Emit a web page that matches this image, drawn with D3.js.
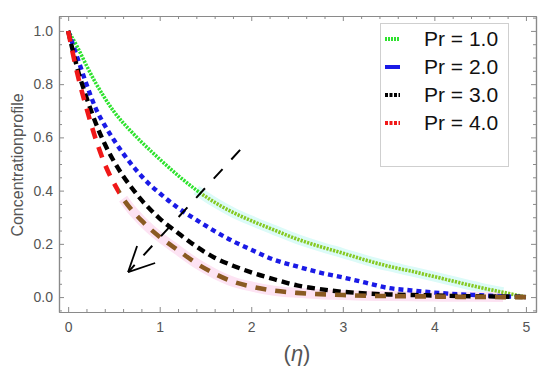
<!DOCTYPE html>
<html>
<head>
<meta charset="utf-8">
<script src="https://cdn.jsdelivr.net/npm/d3@7"></script>
<style>
  body { margin: 0; background: #fff; }
  svg { display: block; font-family: "Liberation Sans", Arial, sans-serif; }
</style>
</head>
<body>
<svg id="chart" width="550" height="376"></svg>
<script>
// values
var eta = [0, 0.1, 0.2, 0.3, 0.4, 0.5, 0.6, 0.7, 0.8, 0.9, 1.0, 1.2, 1.4, 1.6, 1.8,
           2.0, 2.25, 2.5, 2.75, 3.0, 3.25, 3.5, 3.75, 4.0, 4.25, 4.5, 4.75, 5.0];
var pr1 = [1, 0.94, 0.87, 0.805, 0.748, 0.697, 0.655, 0.618, 0.583, 0.55, 0.518, 0.457, 0.402, 0.356, 0.318,
           0.287, 0.252, 0.218, 0.19, 0.165, 0.139, 0.116, 0.097, 0.077, 0.056, 0.036, 0.018, 0];
var pr2 = [1, 0.90, 0.80, 0.71, 0.645, 0.59, 0.54, 0.495, 0.455, 0.42, 0.39, 0.335, 0.29, 0.248, 0.21,
           0.178, 0.14, 0.115, 0.092, 0.074, 0.054, 0.034, 0.025, 0.017, 0.011, 0.007, 0.003, 0];
var pr3 = [1, 0.86, 0.75, 0.655, 0.575, 0.51, 0.455, 0.408, 0.365, 0.328, 0.295, 0.241, 0.19, 0.148, 0.118,
           0.093, 0.067, 0.044, 0.03, 0.02, 0.014, 0.01, 0.008, 0.006, 0.004, 0.003, 0.002, 0];
var pr4 = [1, 0.84, 0.71, 0.595, 0.50, 0.428, 0.37, 0.325, 0.288, 0.255, 0.226, 0.176, 0.127, 0.088, 0.058,
           0.04, 0.024, 0.016, 0.011, 0.008, 0.005, 0.004, 0.003, 0.002, 0.001, 0.001, 0, 0];
var legendLabels = ["Pr = 1.0", "Pr = 2.0", "Pr = 3.0", "Pr = 4.0"];
var xTicks = [0, 1, 2, 3, 4, 5];
var yTicks = [0, 0.2, 0.4, 0.6, 0.8, 1.0];

var svg = d3.select('#chart');
var x = d3.scaleLinear().domain([-0.1, 5.11]).range([59, 536]);
var y = d3.scaleLinear().domain([-0.056, 1.056]).range([312, 16]);

var series = [
  { name: legendLabels[0], vals: pr1, color: '#2ee22e', color2: '#86c923', split: 1.45, dash: '2.2,1.2', w: 3.6, halo: '#dcfbf8', haloFrom: 1.4, legDash: '2,1' },
  { name: legendLabels[1], vals: pr2, color: '#1a1ae6', dash: '5,4', w: 4.4, legDash: null },
  { name: legendLabels[2], vals: pr3, color: '#000000', dash: '8,5', w: 4.4, legDash: '3,1.5' },
  { name: legendLabels[3], vals: pr4, color: '#f01818', color2: '#8a5a22', split: 0.56, dash: '11,9', w: 4.6, halo: '#fde3f3', haloFrom: 0.56, legDash: '3,1.5' }
];

var defs = svg.append('defs');
series.forEach(function(s, i) {
  if (!s.color2) return;
  var g = defs.append('linearGradient')
    .attr('id', 'grad' + i)
    .attr('gradientUnits', 'userSpaceOnUse')
    .attr('x1', x(0)).attr('x2', x(5)).attr('y1', 0).attr('y2', 0);
  var off = s.split / 5;
  g.append('stop').attr('offset', off).attr('stop-color', s.color);
  g.append('stop').attr('offset', off).attr('stop-color', s.color2);
});

var line = d3.line()
  .x(function(d) { return x(d[0]); })
  .y(function(d) { return y(d[1]); })
  .curve(d3.curveMonotoneX);

// faint halos under parts of the curves
series.forEach(function(s) {
  if (!s.halo) return;
  var pts = eta.map(function(e, k) { return [e, s.vals[k]]; })
    .filter(function(p) { return p[0] >= s.haloFrom - 0.05 && p[0] <= 4.8; });
  svg.append('path')
    .attr('d', line(pts))
    .attr('fill', 'none')
    .attr('stroke', s.halo)
    .attr('stroke-width', 10);
});

// curves
series.forEach(function(s, i) {
  var pts = eta.map(function(e, k) { return [e, s.vals[k]]; });
  svg.append('path')
    .attr('d', line(pts))
    .attr('fill', 'none')
    .attr('stroke', s.color2 ? 'url(#grad' + i + ')' : s.color)
    .attr('stroke-width', s.w)
    .attr('stroke-dasharray', s.dash);
});

// frame with inward ticks
var frame = svg.append('g').attr('class', 'frame');
var minorX = d3.range(0, 26).map(function(k) { return k * 0.2; }).filter(function(v) { return Math.abs(v - Math.round(v)) > 1e-6; });
var minorY = d3.range(-1, 22).map(function(k) { return k * 0.05; }).filter(function(v) { return Math.abs(v * 5 - Math.round(v * 5)) > 1e-6 && v > -0.056 && v < 1.056; });

function styleAxis(g) {
  g.selectAll('path.domain').attr('stroke', '#8a8a8a').attr('stroke-width', 1.2);
  g.selectAll('line').attr('stroke', '#8a8a8a');
  g.selectAll('text').attr('fill', '#555').style('font-size', '14px').style('font-family', '"Liberation Sans", Arial, sans-serif');
}

frame.append('g').attr('transform', 'translate(0,312)')
  .call(d3.axisBottom(x).tickValues(xTicks).tickSize(-5).tickPadding(10).tickFormat(d3.format('d')).tickSizeOuter(0))
  .call(styleAxis);
frame.append('g').attr('transform', 'translate(0,312)')
  .call(d3.axisBottom(x).tickValues(minorX).tickSize(-3).tickFormat('').tickSizeOuter(0))
  .call(styleAxis);
frame.append('g').attr('transform', 'translate(0,16)')
  .call(d3.axisTop(x).tickValues(xTicks).tickSize(-5).tickFormat('').tickSizeOuter(0))
  .call(styleAxis);
frame.append('g').attr('transform', 'translate(0,16)')
  .call(d3.axisTop(x).tickValues(minorX).tickSize(-3).tickFormat('').tickSizeOuter(0))
  .call(styleAxis);
frame.append('g').attr('transform', 'translate(59,0)')
  .call(d3.axisLeft(y).tickValues(yTicks).tickSize(-5).tickPadding(6).tickFormat(d3.format('.1f')).tickSizeOuter(0))
  .call(styleAxis);
frame.append('g').attr('transform', 'translate(59,0)')
  .call(d3.axisLeft(y).tickValues(minorY).tickSize(-3).tickFormat('').tickSizeOuter(0))
  .call(styleAxis);
frame.append('g').attr('transform', 'translate(536,0)')
  .call(d3.axisRight(y).tickValues(yTicks).tickSize(-5).tickFormat('').tickSizeOuter(0))
  .call(styleAxis);
frame.append('g').attr('transform', 'translate(536,0)')
  .call(d3.axisRight(y).tickValues(minorY).tickSize(-3).tickFormat('').tickSizeOuter(0))
  .call(styleAxis);

// arrow annotation (direction of increasing Pr)
var arrowFrom = [1.878, 0.553], arrowTo = [0.655, 0.094];
var arm1 = [0.753, 0.192], arm2 = [0.95, 0.128];
svg.append('line')
  .attr('x1', x(arrowFrom[0])).attr('y1', y(arrowFrom[1]))
  .attr('x2', x(arrowTo[0])).attr('y2', y(arrowTo[1]))
  .attr('stroke', '#000').attr('stroke-width', 2).attr('stroke-dasharray', '13,13');
[arm1, arm2].forEach(function(a) {
  svg.append('line')
    .attr('x1', x(arrowTo[0])).attr('y1', y(arrowTo[1]))
    .attr('x2', x(a[0])).attr('y2', y(a[1]))
    .attr('stroke', '#000').attr('stroke-width', 1.8);
});

// legend
var leg = svg.append('g');
leg.append('rect')
  .attr('x', 380.5).attr('y', 23.5).attr('width', 128).attr('height', 143)
  .attr('fill', '#fff').attr('stroke', '#cfcfcf').attr('stroke-width', 1);
series.forEach(function(s, i) {
  var cy = 39 + i * 28;
  leg.append('line')
    .attr('x1', 385).attr('x2', 400).attr('y1', cy).attr('y2', cy)
    .attr('stroke', s.color).attr('stroke-width', 4)
    .attr('stroke-dasharray', s.legDash);
  leg.append('text')
    .attr('x', 424).attr('y', cy + 7)
    .attr('fill', '#111')
    .style('font-size', '21px')
    .text(s.name);
});

// axis titles
svg.append('text')
  .attr('transform', 'translate(23,165) rotate(-90)')
  .attr('text-anchor', 'middle')
  .attr('fill', '#555')
  .style('font-size', '16px')
  .text('Concentrationprofile');

var xt = svg.append('text')
  .attr('x', 297).attr('y', 361)
  .attr('text-anchor', 'middle')
  .attr('fill', '#555')
  .style('font-size', '22px');
xt.append('tspan').text('(');
xt.append('tspan').style('font-style', 'italic').text('η');
xt.append('tspan').text(')');
</script>
</body>
</html>
